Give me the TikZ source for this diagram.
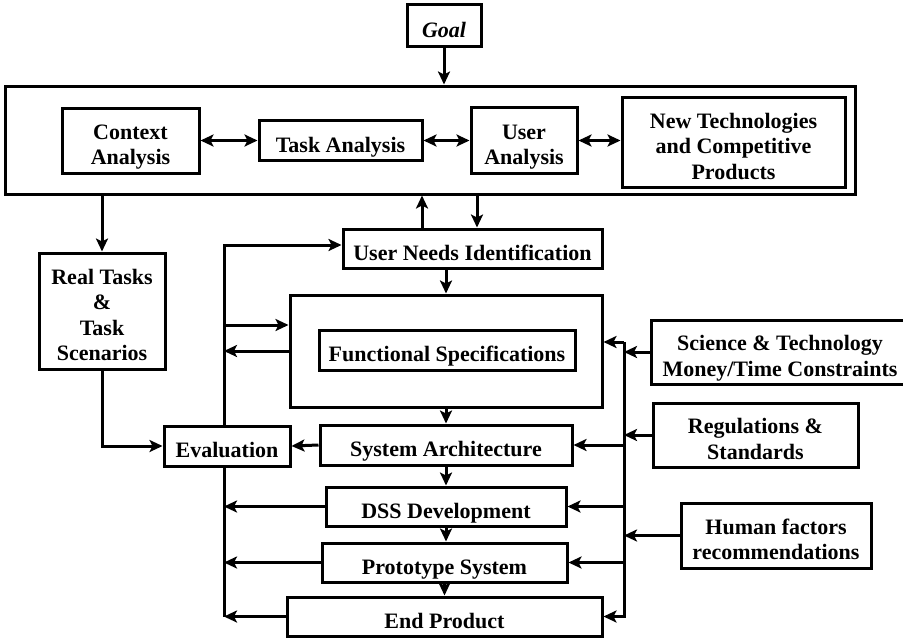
\documentclass[tikz,border=0pt]{standalone}
\usepackage{fontspec}
\setmainfont{Liberation Serif}
\usepackage{tikz}
\usetikzlibrary{arrows.meta,calc,positioning}
\tikzset{
  box/.style={
    rectangle,
    draw=black,
    line width=3pt,
    align=center,
    inner sep=0pt,
    font=\fontsize{22}{25.5}\selectfont\bfseries,
    execute at begin node={\rule{0pt}{28pt}},
    execute at end node={\rule[-5pt]{0pt}{5pt}}
  },
  % extra head room for boxes of several lines
  tall/.style={
    execute at begin node={\rule{0pt}{#1}}
  },
  frame/.style={
    rectangle,
    draw=black,
    line width=3pt,
    inner sep=0pt
  },
  flow/.style={
    line width=3pt,
    -{Stealth[length=13pt,width=12pt,inset=3pt]}
  },
  twoway/.style={
    line width=3pt,
    {Stealth[length=13pt,width=12pt,inset=3pt]}-{Stealth[length=13pt,width=12pt,inset=3pt]}
  },
  bus/.style={
    line width=3pt
  }
}

\begin{document}
\begin{tikzpicture}[x=1pt,y=-1pt]
  \useasboundingbox (0,0) rectangle (903,638);

  % ------------------------------------------------------------------
  % Goal and analysis frame
  % ------------------------------------------------------------------
  \node[box, minimum width=74, minimum height=42, font=\fontsize{22}{25.5}\selectfont\bfseries\itshape]
    (goal) at (444,25.5) {Goal};
  \node[frame, minimum width=850, minimum height=108] (analysis) at (430,140) {};

  \node[box, tall=53.5pt, minimum width=137, minimum height=65] (context) at (130.5,140.5) {Context\\Analysis};
  \node[box, minimum width=163, minimum height=40] (task) at (340.5,140.5) {Task Analysis};
  \node[box, tall=53.5pt, minimum width=106, minimum height=66] (user) at (524,140.5) {User\\Analysis};
  \node[box, tall=79pt, minimum width=223, minimum height=90] (newtech) at (733.5,142) {New Technologies\\and Competitive\\Products};

  \draw[flow]   (goal.south) -- (goal.south |- analysis.north);
  \draw[twoway] (context.east) -- (task.west);
  \draw[twoway] (task.east) -- (user.west);
  \draw[twoway] (user.east) -- (user.east -| newtech.west);

  % ------------------------------------------------------------------
  % Design chain
  % ------------------------------------------------------------------
  \node[box, tall=104.5pt, minimum width=126, minimum height=116] (realtasks) at (102,311) {Real Tasks\\\&\\Task\\Scenarios};
  \node[box, minimum width=259, minimum height=39] (needs) at (472.5,248.5) {User Needs Identification};
  \node[frame, minimum width=312, minimum height=112] (specframe) at (446,351) {};
  \node[box, minimum width=256, minimum height=40] (spec) at (447,350) {Functional Specifications};
  \node[box, minimum width=126, minimum height=40] (eval) at (227,446) {Evaluation};
  \node[box, minimum width=252, minimum height=40] (sysarch) at (446,445) {System Architecture};
  \node[box, minimum width=240, minimum height=39] (dss) at (446,506.5) {DSS Development};
  \node[box, minimum width=245, minimum height=39] (proto) at (444.5,562.5) {Prototype System};
  \node[box, minimum width=315, minimum height=39] (endprod) at (444.5,616.5) {End Product};

  \coordinate (lbus) at (224,0);
  \coordinate (rtop) at (624,342);

  \draw[flow] (analysis.south -| realtasks.north) -- (realtasks.north);
  \draw[flow] ([xshift=-50.5pt]needs.north) -- ([xshift=-50.5pt]needs.north |- analysis.south);
  \draw[flow] ([xshift=4.5pt]needs.north |- analysis.south) -- ([xshift=4.5pt]needs.north);
  \draw[flow] (needs.south -| specframe.north) -- (specframe.north);
  \draw[flow] (specframe.south) -- (sysarch.north);
  \draw[flow] (sysarch.south) -- (sysarch.south |- dss.north);
  \draw[flow] (dss.south) -- (dss.south |- proto.north);
  \draw[flow] (proto.south) -- (proto.south |- endprod.north);

  % evaluation loop (left)
  \draw[flow] (sysarch.west) -- (eval.east);
  \draw[flow] (realtasks.south) |- (eval.west);
  \draw[flow] (eval.north -| lbus) |- ([yshift=3.5pt]needs.west);
  \draw[flow] ([yshift=26pt]specframe.west -| lbus) -- ([yshift=26pt]specframe.west);
  \draw[flow] (specframe.west) -- (specframe.west -| lbus);
  \draw[bus]  (eval.south -| lbus) -- (endprod.west -| lbus);
  \draw[flow] (dss.west) -- (dss.west -| lbus);
  \draw[flow] (proto.west) -- (proto.west -| lbus);
  \draw[flow] (endprod.west) -- (endprod.west -| lbus);

  % ------------------------------------------------------------------
  % Constraints (right)
  % ------------------------------------------------------------------
  \node[box, tall=53.5pt, minimum width=258, minimum height=64] (science) at (780,352) {Science \& Technology\\Money/Time Constraints};
  \node[box, tall=53.5pt, minimum width=205, minimum height=64] (regs) at (755.5,435) {Regulations \&\\Standards};
  \node[box, tall=53.5pt, minimum width=190, minimum height=65] (human) at (776,535.5) {Human factors\\recommendations};

  \draw[flow] (rtop) -- (rtop -| specframe.east);
  \draw[flow] (rtop) |- (endprod.east);
  \draw[flow] (science.west) -- (science.west -| rtop);
  \draw[flow] (regs.west) -- (regs.west -| rtop);
  \draw[flow] (human.west) -- (human.west -| rtop);
  \draw[flow] (sysarch.east -| rtop) -- (sysarch.east);
  \draw[flow] (dss.east -| rtop) -- (dss.east);
  \draw[flow] (proto.east -| rtop) -- (proto.east);
\end{tikzpicture}
\end{document}
